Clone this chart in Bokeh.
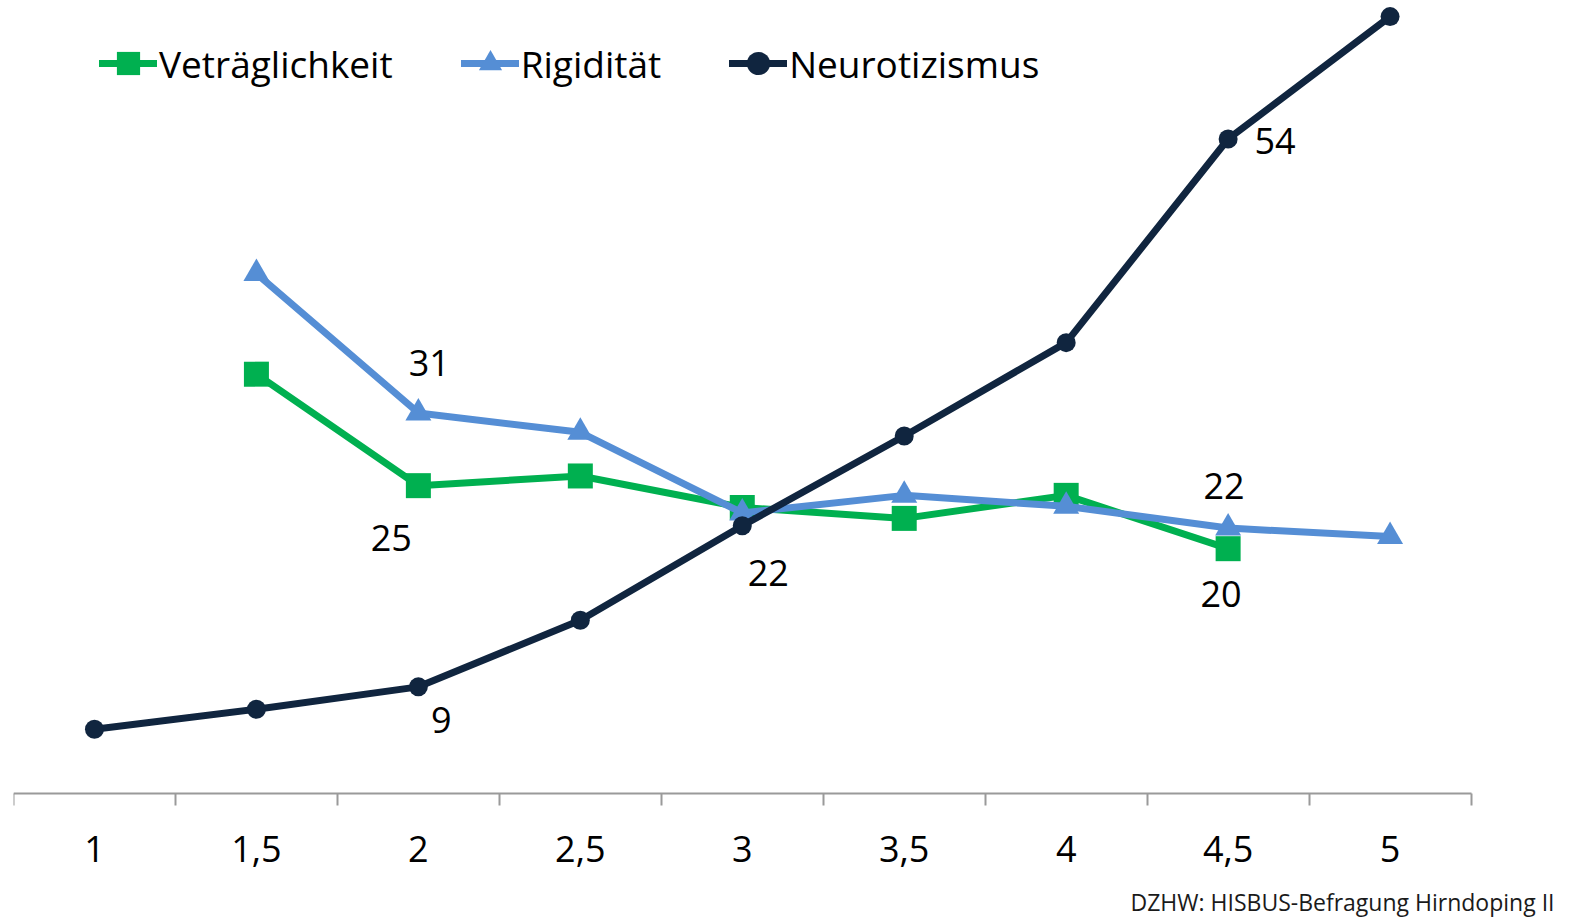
import numpy as np
from bokeh.plotting import figure
from bokeh.models import ColumnDataSource, Range1d, FixedTicker, Label, LinearAxis
from bokeh.core.properties import value
from bokeh.embed import file_html
from bokeh.resources import INLINE

# ---- data ----
x_vals = [1, 1.5, 2, 2.5, 3, 3.5, 4, 4.5, 5]
x_labels = ["1", "1,5", "2", "2,5", "3", "3,5", "4", "4,5", "5"]

vertraeglichkeit = [None, 34.6, 25.4, 26.2, 23.6, 22.7, 24.6, 20.2, None]
rigiditaet = [None, 42.9, 31.4, 29.8, 23.15, 24.6, 23.7, 21.9, 21.2]
neurotizismus = [5.3, 6.95, 8.8, 14.3, 22.1, 29.5, 37.2, 54.0, 64.1]

series_names = ["Veträglichkeit", "Rigidität", "Neurotizismus"]
source_text = "DZHW: HISBUS-Befragung Hirndoping II"

# data labels: (series index, x value, shown text)
data_labels = [
    (0, 2, "25"), (0, 4.5, "20"),
    (1, 2, "31"), (1, 4.5, "22"),
    (2, 2, "9"), (2, 3, "22"), (2, 4.5, "54"),
]
# label offsets in pixels (style)
label_offsets = [(-27, 52), (-7, 45), (11, -50), (-4, -42), (23, 33), (26, 47), (47, 2)]

FONT = "Open Sans"
colors = ["#00B050", "#558ED5", "#10253F"]
markers = ["square", "triangle", "circle"]
msizes = [25, 26, 19]

p = figure(width=1566, height=917, output_backend="svg", toolbar_location=None,
           x_range=Range1d(0.75, 5.5447), y_range=Range1d(-10.23, 65.43),
           x_axis_location=None, y_axis_location=None,
           min_border_left=13, min_border_right=0,
           min_border_top=0, min_border_bottom=0)
p.outline_line_color = None
p.grid.visible = False

all_series = [vertraeglichkeit, rigiditaet, neurotizismus]
for name, vals, c, m, s in zip(series_names, all_series, colors, markers, msizes):
    y = np.array([np.nan if v is None else v for v in vals], dtype=float)
    src = ColumnDataSource(dict(x=x_vals, y=y))
    p.line("x", "y", source=src, line_color=c, line_width=7, line_cap="round",
           line_join="round", legend_label=name)
    p.scatter("x", "y", source=src, marker=m, size=s, fill_color=c, line_color=c,
              line_width=0, legend_label=name)

# data labels
lx, ly, lt, xo, yo = [], [], [], [], []
for (si, xv, txt), (dx, dy) in zip(data_labels, label_offsets):
    idx = x_vals.index(xv)
    lx.append(xv)
    ly.append(all_series[si][idx])
    lt.append(txt)
    xo.append(dx)
    yo.append(dy)
p.text(x=lx, y=ly, text=lt, x_offset=xo, y_offset=yo, text_align="center",
       text_baseline="middle", text_font=value(FONT), text_font_size="36px",
       text_color="black")

# x axis at value 0
boundaries = [x_vals[0] - 0.25] + [v + 0.25 for v in x_vals]
ax = LinearAxis(fixed_location=0, bounds=(boundaries[0], boundaries[-1]))
ax.ticker = FixedTicker(ticks=x_vals, minor_ticks=boundaries)
ax.major_label_overrides = {v: l for v, l in zip(x_vals, x_labels)}
ax.major_tick_out = 0
ax.major_tick_in = 0
ax.minor_tick_out = 12
ax.minor_tick_in = 0
ax.minor_tick_line_color = "#9a9a9a"
ax.minor_tick_line_width = 2
ax.axis_line_color = "#9a9a9a"
ax.axis_line_width = 2
ax.major_label_text_font = FONT
ax.major_label_text_font_size = "36px"
ax.major_label_text_color = "black"
ax.major_label_standoff = 30
p.add_layout(ax, "below")

# legend
lg = p.legend[0]
lg.orientation = "horizontal"
lg.location = (86, 823)
lg.padding = 0
lg.margin = 0
lg.spacing = 68
lg.glyph_width = 58
lg.glyph_height = 62
lg.label_standoff = 2
lg.label_text_font = FONT
lg.label_text_font_size = "37px"
lg.label_text_color = "black"
lg.border_line_color = None
lg.background_fill_alpha = 0

p.add_layout(Label(x=1541, y=16, x_units="screen", y_units="screen", text=source_text,
                   text_align="right", text_baseline="alphabetic", text_font=FONT,
                   text_font_size="23px", text_color="#1a1a1a"))

open("out.html", "w").write(file_html(p, INLINE))
